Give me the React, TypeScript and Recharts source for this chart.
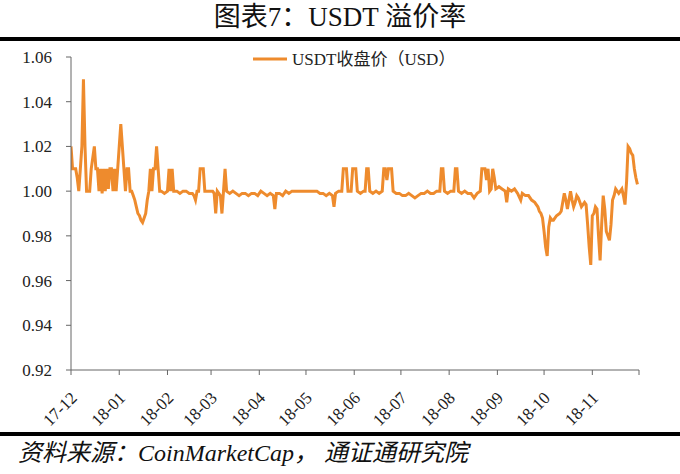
import { LineChart, Line, XAxis, YAxis } from "recharts";

// days since 2017-12-01
const monthTicks = [0, 31, 62, 90, 121, 151, 182, 212, 243, 274, 304, 335, 365];
const monthLabels = ["17-12", "18-01", "18-02", "18-03", "18-04", "18-05", "18-06", "18-07", "18-08", "18-09", "18-10", "18-11", ""];
const yTicks = [0.92, 0.94, 0.96, 0.98, 1.0, 1.02, 1.04, 1.06];

const days = [
  0, 1, 3, 4, 5, 6, 7, 8, 9, 10,
  12, 13, 15, 16, 17, 18, 19, 20, 21, 22,
  23, 24, 25, 26, 27, 28, 29, 30,
  // Jan
  31, 32, 33, 34, 35, 36, 37, 38, 39, 40,
  41, 42, 43, 44, 45, 46, 47, 48, 49, 50,
  51, 52, 53, 54, 55, 56, 57, 58, 60,
  // Feb
  62, 63, 64, 65, 66, 68, 70, 72, 74, 76,
  78, 79, 80, 81, 82, 83, 84, 85, 86, 88,
  // Mar
  90, 91, 92, 93, 94, 95, 96, 97, 98, 99,
  100, 102, 104, 106, 108, 110, 112, 114, 116, 118,
  120,
  // Apr
  122, 124, 126, 128, 130, 131, 132, 134, 136, 138,
  140, 142, 146, 150,
  // May
  154, 158, 160, 162, 164, 166, 168, 169, 170, 172,
  174, 175, 176, 177, 178, 180, 181,
  // Jun
  182, 183, 184, 186, 188, 189, 190, 191, 192, 194,
  196, 198, 200, 201, 202, 203, 204, 205, 206, 207,
  209, 211,
  // Jul
  213, 215, 217, 219, 221, 223, 225, 227, 229, 231,
  233, 235, 237, 238, 239, 240, 242,
  // Aug
  244, 246, 247, 248, 249, 251, 253, 255, 257, 259,
  261, 263, 264, 265, 266, 267, 268, 269, 270, 271,
  272, 273,
  // Sep
  275, 277, 279, 280, 281, 283, 285, 287, 289, 290,
  292, 294, 296, 298, 299, 300, 301, 302, 303,
  // Oct
  304, 305, 306, 307, 308, 309, 310, 312, 314, 315,
  316, 317, 318, 319, 320, 321, 322, 323, 324, 325,
  326, 327, 328, 330, 331, 332, 333, 334,
  // Nov
  335, 336, 337, 338, 339, 340, 341, 342, 343, 344,
  345, 346, 347, 348, 349, 350, 351, 352, 353, 354,
  355, 356, 357, 358, 359, 360, 361, 362, 363, 364,
];

const usdtClose = [
  1.020, 1.010, 1.010, 1.006, 1.000, 1.010, 1.020, 1.050, 1.020, 1.000,
  1.000, 1.010, 1.020, 1.010, 1.010, 1.000, 1.010, 0.999, 1.010, 1.000,
  1.010, 1.001, 1.010, 1.010, 1.000, 1.010, 1.000, 1.010,
  // Jan
  1.020, 1.030, 1.020, 1.010, 1.000, 1.010, 1.010, 1.000, 1.000, 0.998,
  0.996, 0.993, 0.990, 0.989, 0.987, 0.986, 0.988, 0.990, 0.996, 1.000,
  1.010, 1.000, 1.010, 1.010, 1.020, 1.010, 1.000, 1.000, 0.999,
  // Feb
  1.000, 1.010, 1.000, 1.010, 1.000, 1.000, 0.999, 1.000, 1.000, 0.999,
  0.999, 0.998, 0.996, 1.000, 1.000, 1.010, 1.010, 1.010, 1.000, 1.000,
  // Mar
  1.000, 1.000, 0.999, 0.990, 1.000, 0.999, 0.998, 0.990, 1.000, 1.010,
  1.000, 0.999, 1.000, 0.999, 0.998, 0.999, 0.999, 0.998, 0.999, 0.999,
  0.998,
  // Apr
  1.000, 0.999, 0.998, 0.999, 0.998, 0.992, 0.999, 0.999, 0.998, 1.000,
  0.999, 1.000, 1.000, 1.000,
  // May
  1.000, 1.000, 0.999, 0.999, 0.998, 0.999, 0.998, 0.993, 0.999, 1.000,
  1.000, 1.010, 1.010, 1.010, 1.000, 1.000, 1.010,
  // Jun
  1.010, 1.010, 1.000, 0.999, 1.000, 1.000, 1.010, 1.010, 1.000, 0.999,
  1.000, 0.999, 1.000, 1.010, 1.010, 1.005, 1.010, 1.010, 1.010, 1.000,
  0.999, 0.999,
  // Jul
  0.998, 0.998, 0.999, 0.998, 0.997, 0.998, 0.999, 0.999, 1.000, 0.999,
  0.999, 1.000, 1.000, 1.010, 1.010, 1.000, 0.999,
  // Aug
  1.000, 1.000, 1.010, 1.010, 1.000, 0.999, 1.000, 0.999, 0.999, 0.997,
  0.999, 1.000, 1.010, 1.010, 1.010, 1.005, 1.010, 1.000, 1.001, 1.010,
  1.006, 1.001,
  // Sep
  1.002, 1.001, 1.000, 0.995, 1.001, 1.000, 1.001, 0.999, 0.996, 0.999,
  0.998, 0.998, 0.996, 0.995, 0.994, 0.993, 0.991, 0.990, 0.988,
  // Oct
  0.982, 0.975, 0.971, 0.984, 0.988, 0.987, 0.987, 0.989, 0.990, 0.991,
  0.995, 0.999, 0.996, 0.992, 0.996, 1.000, 0.996, 0.993, 0.995, 0.998,
  0.997, 0.995, 0.993, 0.995, 0.994, 0.985, 0.975, 0.967,
  // Nov
  0.989, 0.990, 0.993, 0.992, 0.980, 0.969, 0.985, 0.998, 0.992, 0.982,
  0.980, 0.978, 0.985, 0.996, 0.998, 1.001, 1.000, 0.999, 1.000, 1.001,
  0.998, 0.994, 1.004, 1.020, 1.019, 1.017, 1.016, 1.010, 1.006, 1.003,
];

const data = days.map((day, i) => ({ day, close: usdtClose[i] }));

const SERIF = '"Liberation Serif", "Times New Roman", "Noto Sans CJK SC", serif';
const ORANGE = "#EE8B2D";
const AXIS = "#666666";

const MonthTick = (props: any) => {
  const { x, y, payload } = props;
  const idx = monthTicks.indexOf(payload.value);
  const label = idx >= 0 ? monthLabels[idx] : "";
  const tx = x + 7;
  const ty = y + 24;
  return (
    <text
      x={tx}
      y={ty}
      transform={`rotate(-45, ${tx}, ${ty})`}
      textAnchor="end"
      fontFamily={SERIF}
      fontSize={17}
      fill="#222"
    >
      {label}
    </text>
  );
};

const App = () => {
  return (
    <div style={{ position: "absolute", left: 0, top: 0, width: 680, height: 474, background: "#fff", fontFamily: SERIF }}>
      <div style={{ position: "absolute", left: 0, top: 1, width: 680, textAlign: "center", fontSize: 27, color: "#111", lineHeight: "32px" }}>
        图表7：USDT 溢价率
      </div>
      <div style={{ position: "absolute", left: 0, top: 37, width: 680, height: 4, background: "#000" }} />
      <div style={{ position: "absolute", left: 0, top: 40 }}>
        <LineChart width={680} height={400} data={data} margin={{ top: 17, right: 41, left: 0, bottom: 0 }}>
          <XAxis
            dataKey="day"
            type="number"
            domain={[0, 365]}
            ticks={monthTicks}
            interval={0}
            tick={MonthTick}
            tickSize={5}
            tickMargin={0}
            height={70}
            stroke={AXIS}
            allowDataOverflow
          />
          <YAxis
            domain={[0.92, 1.06]}
            ticks={yTicks}
            interval={0}
            tickFormatter={(v: number) => v.toFixed(2)}
            width={71}
            tickSize={5}
            tickMargin={14}
            stroke={AXIS}
            tick={{ fill: "#222", fontSize: 17, fontFamily: SERIF }}
            allowDataOverflow
          />
          <Line
            type="linear"
            dataKey="close"
            name="USDT收盘价（USD）"
            stroke={ORANGE}
            strokeWidth={3}
            dot={false}
            isAnimationActive={false}
          />
        </LineChart>
      </div>
      <div style={{ position: "absolute", left: 250, top: 48 }}>
        <svg width={230} height={22}>
          <line x1={3} y1={11} x2={37} y2={11} stroke={ORANGE} strokeWidth={3} />
          <text x={42} y={17} fontFamily={SERIF} fontSize={17} fill="#222">
            USDT收盘价（USD）
          </text>
        </svg>
      </div>
      <div style={{ position: "absolute", left: 0, top: 432, width: 680, height: 4, background: "#000" }} />
      <div style={{ position: "absolute", left: 18, top: 439, fontSize: 24, fontStyle: "italic", color: "#111", lineHeight: "28px", whiteSpace: "nowrap" }}>
        资料来源：CoinMarketCap， 通证通研究院
      </div>
    </div>
  );
};

export default App;
